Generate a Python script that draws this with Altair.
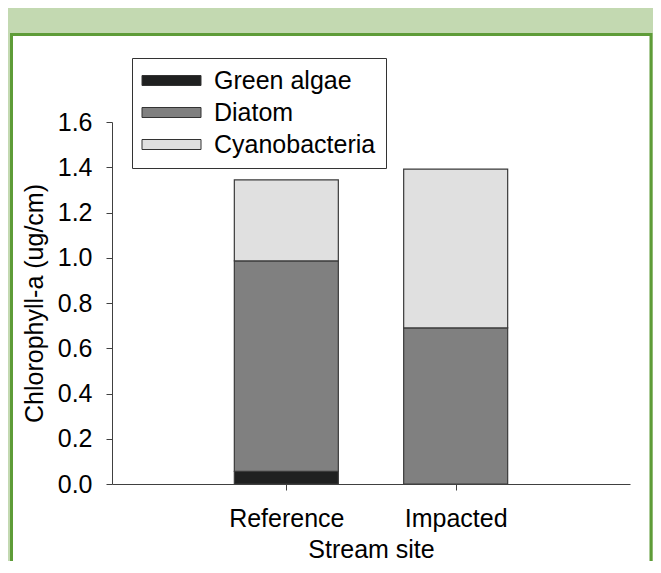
import altair as alt
import pandas as pd

# ---- data ----
sites = ["Reference", "Impacted"]
site_pos = [1, 2]
groups = ["Green algae", "Diatom", "Cyanobacteria"]
green_algae = [0.056, 0.0]
diatom = [0.930, 0.690]
cyanobacteria = [0.358, 0.702]
y_ticks = [0.0, 0.2, 0.4, 0.6, 0.8, 1.0, 1.2, 1.4, 1.6]
group_colors = ["#1f2020", "#808080", "#e0e0e0"]

rows = []
for i, s in enumerate(sites):
    for j, (g, vals) in enumerate(zip(groups, [green_algae, diatom, cyanobacteria])):
        rows.append({"site": s, "pos": site_pos[i], "group": g, "order": j, "value": vals[i]})
df = pd.DataFrame(rows)

FONT = "Liberation Sans"
AX = "#404040"
BG = "#c3d9b1"
BORDER = "#5e9c38"

panel = alt.Chart(pd.DataFrame({"a": [0]})).mark_rect(
    fill="white", stroke=BORDER, strokeWidth=3
).encode(
    x=alt.value(-100.5), x2=alt.value(539), y=alt.value(-87.5), y2=alt.value(480)
)

label_expr = f"datum.value == {site_pos[0]} ? '{sites[0]}' : '{sites[1]}'"

bars = alt.Chart(df).mark_bar(size=104, stroke="#3a3a3a", strokeWidth=1.2).encode(
    x=alt.X(
        "pos:Q",
        scale=alt.Scale(domain=[0, 3], nice=False, zero=False),
        axis=alt.Axis(
            values=site_pos, labelExpr=label_expr, title="Stream site",
            grid=False, tickSize=6, labelPadding=16,
            titleBaseline="alphabetic", titleY=73,
            labelFontSize=25, titleFontSize=25, labelFont=FONT, titleFont=FONT,
            titleFontWeight="normal", labelColor="black", titleColor="black",
            domainColor=AX, tickColor=AX, zindex=1, labelFlush=False,
        ),
    ),
    y=alt.Y(
        "value:Q", stack="zero",
        scale=alt.Scale(domain=[0, 1.6], nice=False),
        axis=alt.Axis(
            values=y_ticks, format=".1f", title="Chlorophyll-a (ug/cm)",
            grid=False, tickSize=6, labelPadding=14, titlePadding=10,
            labelFontSize=25, titleFontSize=25, labelFont=FONT, titleFont=FONT,
            titleFontWeight="normal", labelColor="black", titleColor="black",
            domainColor=AX, tickColor=AX, zindex=1, labelFlush=False,
        ),
    ),
    color=alt.Color(
        "group:N",
        scale=alt.Scale(domain=groups, range=group_colors),
        legend=alt.Legend(
            title=None, orient="none", legendX=20, legendY=-64,
            strokeColor="#333333", fillColor="white", padding=10,
            symbolType="M-2.95,-0.5L2.95,-0.5L2.95,0.5L-2.95,0.5Z",
            symbolSize=400, symbolOffset=17, labelOffset=30,
            symbolStrokeColor="#333333", symbolStrokeWidth=1,
            labelFontSize=25, labelFont=FONT, labelColor="black",
            labelLimit=400, rowPadding=6, zindex=1,
        ),
    ),
    order=alt.Order("order:Q"),
)

chart = alt.layer(panel, bars).properties(
    width=518, height=362, background=BG,
    padding={"left": 104, "top": 114, "right": 23, "bottom": 77},
    autosize=alt.AutoSizeParams(type="none"),
).configure_view(strokeWidth=0)

chart.save("out.html", embed_options={"renderer": "svg", "actions": False})
